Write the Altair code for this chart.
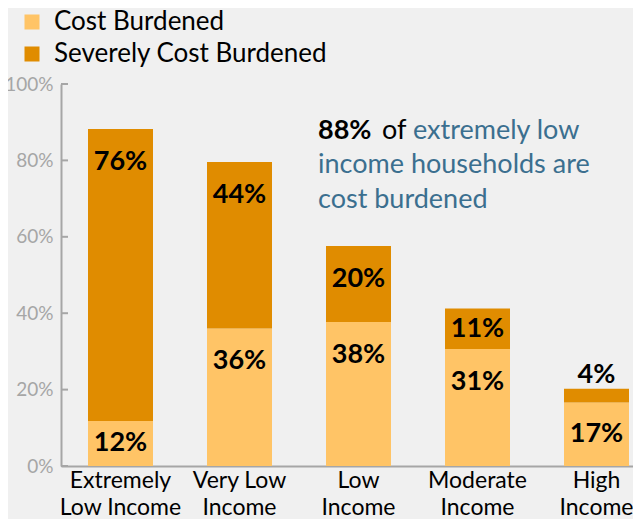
import altair as alt
import pandas as pd

categories = ["Extremely\nLow Income", "Very Low\nIncome", "Low\nIncome", "Moderate\nIncome", "High\nIncome"]
cost_burdened = [11.8, 36.0, 37.7, 30.6, 16.6]
severely_burdened = [76.4, 43.6, 19.9, 10.6, 3.6]
series = ["Cost Burdened", "Severely Cost Burdened"]
y_ticks = [0, 20, 40, 60, 80, 100]

LIGHT = "#ffc466"
DARK = "#e08c00"
BLUE = "#3b6f8f"
GRAY = "#a6a6a6"
FONT = "Lato"

rows = []
for c, a, b in zip(categories, cost_burdened, severely_burdened):
    for s, bottom, top in ((series[0], 0, a), (series[1], a, a + b)):
        size = top - bottom
        if size < 6:
            pos = top + 3.7
        else:
            pos = max(top - 8.6, (bottom + top) / 2)
        rows.append({"cat": c, "series": s, "value": size, "pos": pos,
                     "label": f"{int(size + 0.5)}%", "order": series.index(s)})
df = pd.DataFrame(rows)

xenc = alt.X("cat:N", sort=categories, title=None,
             scale=alt.Scale(range=[0, 595], paddingInner=0.454, paddingOuter=0.227),
             axis=alt.Axis(labelExpr="split(datum.label, '\\n')", labelAngle=0,
                           labelFontSize=23, labelColor="black", labelFont=FONT,
                           labelPadding=3, labelLineHeight=27, ticks=False,
                           domainColor=GRAY, domainWidth=2, labelBaseline="top"))

yscale = alt.Scale(domain=[0, 100], nice=False)

bars = alt.Chart(df).mark_bar(size=65).encode(
    x=xenc,
    y=alt.Y("value:Q", stack="zero", scale=yscale, title=None,
            axis=alt.Axis(values=y_ticks, labelExpr="datum.value + '%'", ticks=False,
                          grid=False, labelFontSize=19, labelColor="#a6a6a6",
                          labelFont=FONT, labelPadding=8, domainColor=GRAY, domainWidth=2)),
    color=alt.Color("series:N", scale=alt.Scale(domain=series, range=[LIGHT, DARK]),
                    legend=alt.Legend(title=None, orient="none", legendX=-42, legendY=-75,
                                      symbolType="square", symbolSize=225,
                                      symbolStrokeWidth=0, labelFontSize=26,
                                      labelFont=FONT, labelColor="black", labelLimit=0,
                                      labelOffset=9, rowPadding=6, padding=0)),
    order=alt.Order("order:Q"),
)

labels = alt.Chart(df).mark_text(font=FONT, fontSize=27, fontWeight="bold",
                                 color="black", baseline="middle").encode(
    x=alt.X("cat:N", sort=categories),
    y=alt.Y("pos:Q", scale=yscale),
    text="label:N",
)

ticks = alt.Chart(pd.DataFrame({"t": y_ticks})).mark_rule(color=GRAY, strokeWidth=2).encode(
    y=alt.Y("t:Q", scale=yscale), x=alt.value(0), x2=alt.value(7))

ann_df = pd.DataFrame({"k": [0]})
ann1 = alt.Chart(ann_df).mark_text(text="88%", font=FONT, fontSize=27, fontWeight="bold",
                                   color="black", align="left", baseline="middle").encode(
    x=alt.value(257), y=alt.value(47))
ann2 = alt.Chart(ann_df).mark_text(text="of", font=FONT, fontSize=27,
                                   color="black", align="left", baseline="middle").encode(
    x=alt.value(321), y=alt.value(47))
ann3 = alt.Chart(ann_df).mark_text(text="extremely low", font=FONT, fontSize=27,
                                   color=BLUE, align="left", baseline="middle").encode(
    x=alt.value(352), y=alt.value(47))
ann4 = alt.Chart(ann_df).mark_text(text=["income households are", "cost burdened"], font=FONT,
                                   fontSize=27, lineHeight=35, color=BLUE, align="left",
                                   baseline="middle").encode(
    x=alt.value(257), y=alt.value(81))

chart = alt.layer(bars, labels, ticks, ann1, ann2, ann3, ann4).properties(
    width=572, height=382,
    autosize=alt.AutoSizeParams(type="none"),
    padding={"left": 53, "top": 76, "right": 0, "bottom": 53},
    background="#f0f0f0",
).configure_view(stroke=None)

chart.save("out.html", embed_options={"renderer": "svg", "actions": False})
